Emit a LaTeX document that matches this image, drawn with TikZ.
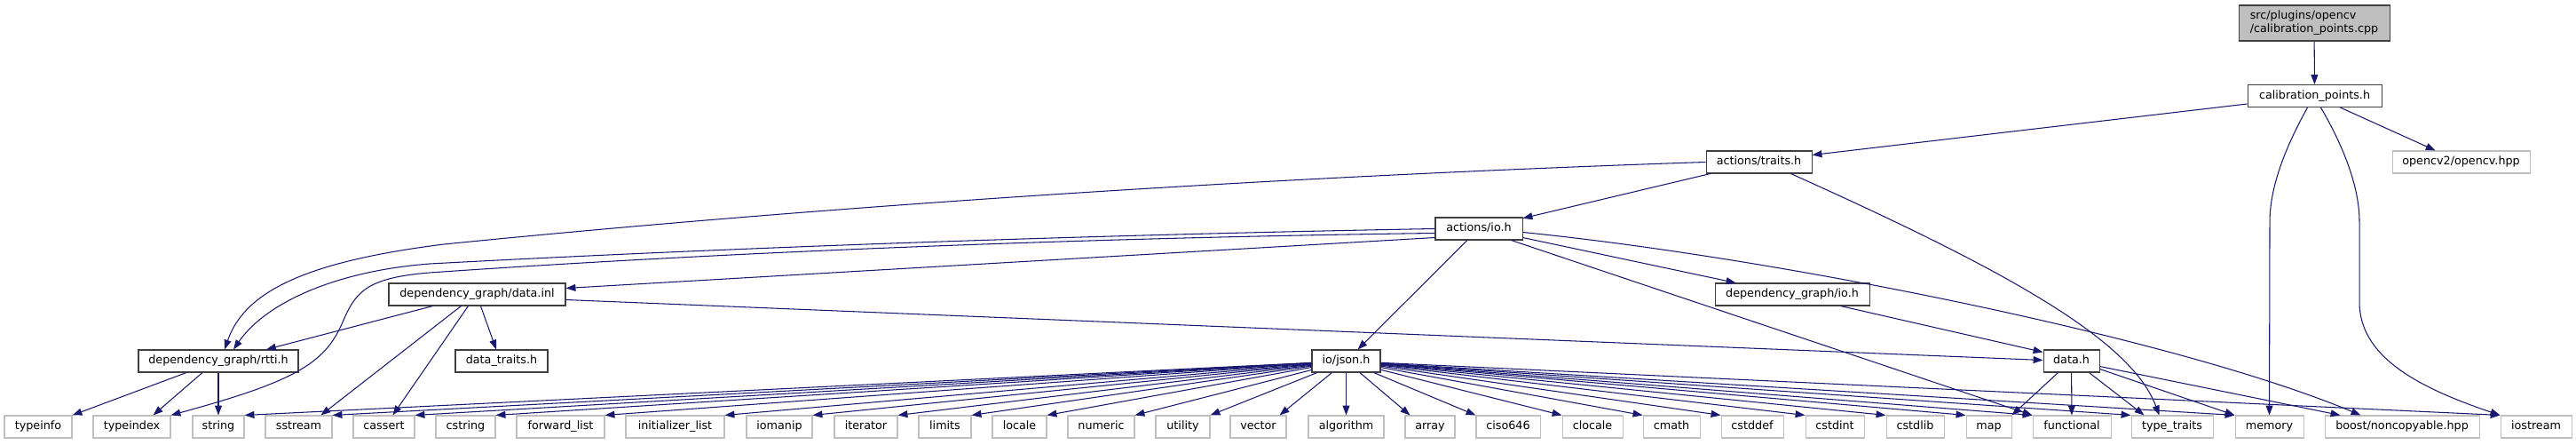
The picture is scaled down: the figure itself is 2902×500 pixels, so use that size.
\documentclass[tikz,border=0pt]{standalone}
\usepackage{fontspec}
\setmainfont{DejaVu Sans}
\usetikzlibrary{arrows.meta,calc}
\definecolor{edgeblue}{HTML}{191970}
\definecolor{lgray}{HTML}{BFBFBF}
\definecolor{dgray}{HTML}{404040}
\begin{document}
\begin{tikzpicture}[x=0.02cm,y=-0.02cm,
  box/.style={draw=dgray, line width=0.6pt, fill=white, inner sep=0pt,
    minimum height=0.5cm, text height=5.3pt, text depth=1.5pt,
    font=\fontsize{7.25}{8.7}\selectfont},
  ext/.style={box, draw=lgray},
  bw/.style={minimum width=#1*0.02cm},
  edge/.style={draw=edgeblue, line width=0.6pt, -{Triangle[length=6.2pt,width=4.5pt]}},
]
\fill[white] (0,0) rectangle (2902,500);
\useasboundingbox (0,0) rectangle (2902,500);

% top levels
\node[box, fill=lgray, bw=170, minimum height=0.8cm, text height=, text depth=, align=left] (root) at (2607,26) {src/plugins/opencv\\/calibration\_points.cpp};
\node[box, bw=151] (calib) at (2607.5,108) {calibration\_points.h};
\node[ext, bw=155] (opencv) at (2772.5,182.5) {opencv2/opencv.hpp};
\node[box, bw=119] (traits) at (1981.5,182.5) {actions/traits.h};
\node[box, bw=98] (aio) at (1666,257.5) {actions/io.h};
\node[box, bw=199] (datainl) at (537.5,331.5) {dependency\_graph/data.inl};
\node[box, bw=174] (dgio) at (2019,331.5) {dependency\_graph/io.h};
\node[box, bw=180] (rtti) at (246,406.5) {dependency\_graph/rtti.h};
\node[box, bw=104] (dtraits) at (565,406.5) {data\_traits.h};
\node[box, bw=77] (json) at (1516.5,406.5) {io/json.h};
\node[box, bw=63] (datah) at (2333.5,406.5) {data.h};

% bottom row
\node[ext, bw=76] (typeinfo) at (43,480.5) {typeinfo};
\node[ext, bw=87] (typeindex) at (148.5,480.5) {typeindex};
\node[ext, bw=58] (string) at (246,480.5) {string};
\node[ext, bw=75] (sstream) at (336.5,480.5) {sstream};
\node[ext, bw=69] (cassert) at (432.5,480.5) {cassert};
\node[ext, bw=67] (cstring) at (524.5,480.5) {cstring};
\node[ext, bw=99] (forwardlist) at (631.5,480.5) {forward\_list};
\node[ext, bw=111] (initlist) at (760.5,480.5) {initializer\_list};
\node[ext, bw=74] (iomanip) at (878,480.5) {iomanip};
\node[ext, bw=71] (iterator) at (975.5,480.5) {iterator};
\node[ext, bw=59] (limits) at (1064.5,480.5) {limits};
\node[ext, bw=61] (locale) at (1148.5,480.5) {locale};
\node[ext, bw=75] (numeric) at (1240.5,480.5) {numeric};
\node[ext, bw=61] (utility) at (1332.5,480.5) {utility};
\node[ext, bw=63] (vector) at (1417.5,480.5) {vector};
\node[ext, bw=85] (algorithm) at (1516.5,480.5) {algorithm};
\node[ext, bw=56] (array) at (1611,480.5) {array};
\node[ext, bw=72] (ciso) at (1699,480.5) {ciso646};
\node[ext, bw=68] (clocale) at (1794,480.5) {clocale};
\node[ext, bw=64] (cmath) at (1883,480.5) {cmath};
\node[ext, bw=70] (cstddef) at (1974,480.5) {cstddef};
\node[ext, bw=66] (cstdint) at (2067,480.5) {cstdint};
\node[ext, bw=65] (cstdlib) at (2157.5,480.5) {cstdlib};
\node[ext, bw=51] (map) at (2240.5,480.5) {map};
\node[ext, bw=88] (functional) at (2334,480.5) {functional};
\node[ext, bw=92] (typetraits) at (2447,480.5) {type\_traits};
\node[ext, bw=77] (memory) at (2556.5,480.5) {memory};
\node[ext, bw=174] (boost) at (2706,480.5) {boost/noncopyable.hpp};
\node[ext, bw=80] (iostream) at (2857,480.5) {iostream};

% edges from root and calibration_points.h
\draw[edge] (root) -- (calib);
\draw[edge] ($(calib.west)+(0,9)$) -- ($(traits.east)+(0,-8)$);
\draw[edge] (calib) -- (opencv);
\draw[edge] ($(calib.south)+(-8,0)$) .. controls (2575,165) and (2557,210) .. (2557,250) -- (memory.north);
\draw[edge] ($(calib.south)+(7,0)$) .. controls (2640,165) and (2658,210) .. (2658,250) -- (2658,340) .. controls (2658,400) and (2720,435) .. (iostream.north west);

% actions/traits.h
\draw[edge] (traits) -- (aio);
\draw[edge] (traits.west) .. controls (1400,200) and (900,235) .. (500,275) .. controls (340,295) and (275,330) .. ($(rtti.north)+(7,0)$);
\draw[edge] ($(traits.south)+(36,0)$) .. controls (2250,300) and (2400,380) .. ($(typetraits.north west)+(32,0)$);

% actions/io.h
\draw[edge] (aio.west) .. controls (1200,265) and (800,280) .. (484,297) .. controls (380,305) and (300,340) .. ($(rtti.north)+(17,0)$);
\draw[edge] ($(aio.west)+(0,5)$) .. controls (1200,268) and (800,285) .. (484,307) .. controls (410,313) and (400,330) .. (385,365) .. controls (365,410) and (330,430) .. (typeindex.north east);
\draw[edge] ($(aio.west)+(0,10)$) -- ($(datainl.east)+(0,-7)$);
\draw[edge] (aio) -- (json);
\draw[edge] ($(aio.east)+(0,10)$) -- ($(dgio.north west)+(24,0)$);
\draw[edge] ($(aio.east)+(0,4)$) .. controls (2000,290) and (2450,380) .. ($(boost.north west)+(41,0)$);
\draw[edge] ($(aio.south east)+(-13,0)$) -- (functional.north west);

% dependency_graph/data.inl
\draw[edge] ($(datainl.south west)+(50,0)$) -- ($(rtti.north)+(54,0)$);
\draw[edge] ($(datainl.south west)+(82,0)$) -- ($(sstream.north)+(25,0)$);
\draw[edge] ($(datainl.south west)+(90,0)$) -- ($(cassert.north)+(10,0)$);
\draw[edge] ($(datainl.south west)+(104,0)$) -- ($(dtraits.north)+(-6,0)$);
\draw[edge] ($(datainl.east)+(0,6)$) -- ($(datah.west)+(0,-1)$);

% dependency_graph/io.h
\draw[edge] ($(dgio.south east)+(-33,0)$) -- ($(datah.north west)+(0,3)$);

% dependency_graph/rtti.h
\draw[edge] ($(rtti.south)+(-36,0)$) -- (typeinfo.north east);
\draw[edge] ($(rtti.south)+(-18,0)$) -- ($(typeindex.north)+(24,0)$);
\draw[edge] (rtti) -- (string);

% data.h
\draw[edge] ($(datah.south)+(-15,0)$) -- (map.north east);
\draw[edge] (datah) -- (functional);
\draw[edge] ($(datah.south)+(20,0)$) -- ($(typetraits.north west)+(15,0)$);
\draw[edge] ($(datah.east)+(0,9)$) -- (memory.north west);
\draw[edge] ($(datah.east)+(0,6)$) -- ($(boost.north west)+(18,0)$);

% io/json.h
\foreach \t in {string,sstream,cassert,cstring,forwardlist,initlist,iomanip,iterator,limits,locale,numeric,utility}
  \draw[edge] (json) -- (\t.north east);
\draw[edge] (json) -- ($(vector.north east)+(-8,0)$);
\draw[edge] (json) -- (algorithm);
\draw[edge] (json) -- ($(array.north west)+(6,0)$);
\foreach \t in {ciso,clocale,cmath,cstddef,cstdint,cstdlib,map,functional,typetraits,memory,iostream}
  \draw[edge] (json) -- (\t.north west);
\end{tikzpicture}
\end{document}
